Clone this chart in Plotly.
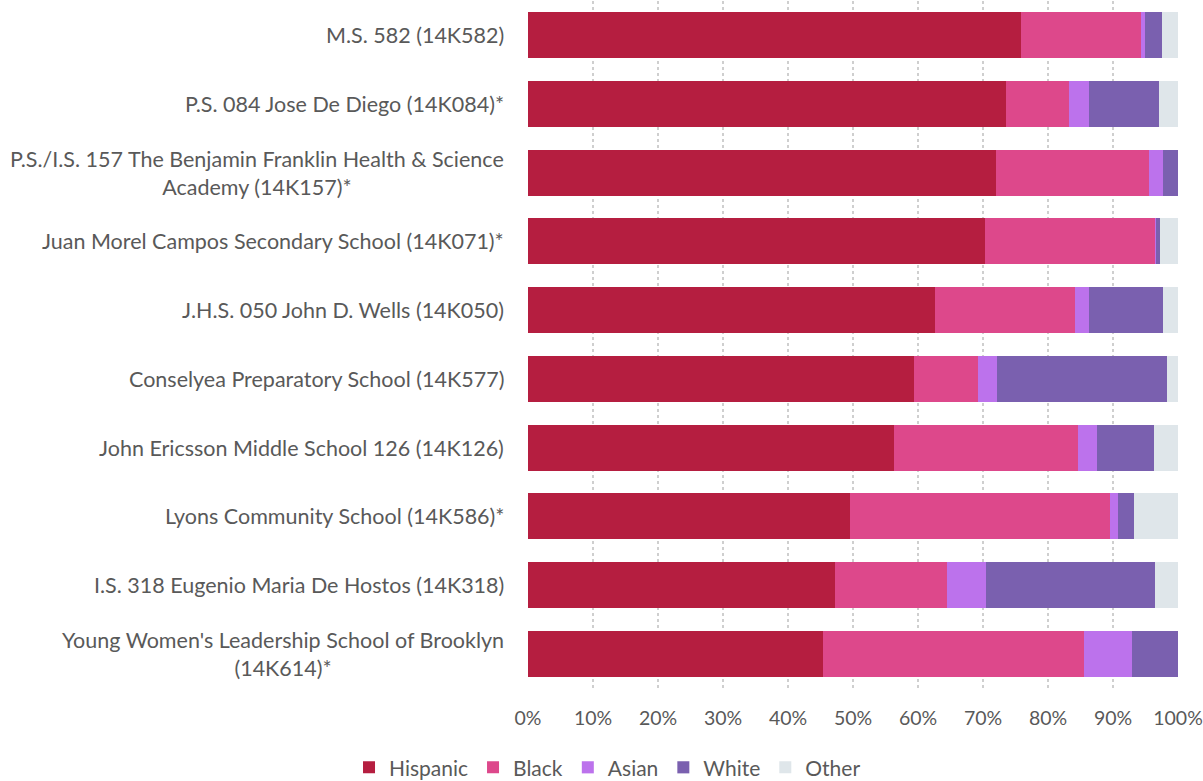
import plotly.graph_objects as go

schools = [
    "M.S. 582 (14K582)",
    "P.S. 084 Jose De Diego (14K084)*",
    "P.S./I.S. 157 The Benjamin Franklin Health & Science<br>Academy (14K157)*",
    "Juan Morel Campos Secondary School (14K071)*",
    "J.H.S. 050 John D. Wells (14K050)",
    "Conselyea Preparatory School (14K577)",
    "John Ericsson Middle School 126 (14K126)",
    "Lyons Community School (14K586)*",
    "I.S. 318 Eugenio Maria De Hostos (14K318)",
    "Young Women's Leadership School of Brooklyn<br>(14K614)*",
]
hispanic = [75.8, 73.6, 72.0, 70.3, 62.6, 59.4, 56.3, 49.5, 47.3, 45.4]
black    = [18.5,  9.7, 23.5, 26.2, 21.5,  9.9, 28.3, 40.1, 17.1, 40.2]
asian    = [ 0.6,  3.0,  2.2,  0.1,  2.2,  2.9,  3.0,  1.1,  6.1,  7.3]
white    = [ 2.6, 10.8,  2.3,  0.7, 11.4, 26.1,  8.7,  2.6, 26.0,  7.1]
other    = [ 2.5,  2.9,  0.0,  2.7,  2.3,  1.7,  3.7,  6.7,  3.5,  0.0]

series = [
    ("Hispanic", hispanic, "#B51E40"),
    ("Black", black, "#DD488B"),
    ("Asian", asian, "#BC72EC"),
    ("White", white, "#7A60AF"),
    ("Other", other, "#DFE6EA"),
]

tick_vals = [0, 10, 20, 30, 40, 50, 60, 70, 80, 90, 100]
tick_text = [f"{v}%" for v in tick_vals]

FONT = "Lato, 'Open Sans', sans-serif"
GREY = "#595959"

fig = go.Figure()
for name, vals, color in series:
    fig.add_trace(go.Bar(
        y=schools, x=vals, name=name, orientation="h",
        marker=dict(color=color, line=dict(width=0)),
        width=0.67,
    ))

for s in schools:
    fig.add_annotation(
        x=0, xref="paper", y=s, yref="y", text=s, showarrow=False,
        xanchor="right", align="center", xshift=-22,
        font=dict(family=FONT, size=21.5, color=GREY),
    )

fig.update_layout(
    barmode="stack",
    width=1203, height=781,
    margin=dict(l=528, r=25, t=1, b=93, autoexpand=False),
    paper_bgcolor="white", plot_bgcolor="white",
    font=dict(family=FONT, size=21, color=GREY),
    showlegend=True,
    legend=dict(
        orientation="h", xref="container", yref="container",
        x=0.505, xanchor="center", y=0.017, yanchor="middle",
        font=dict(family=FONT, size=21, color=GREY),
        traceorder="normal", itemwidth=30,
    ),
    xaxis=dict(
        range=[0, 100], tickvals=tick_vals, ticktext=tick_text,
        showgrid=True, gridcolor="#CFCFCF", gridwidth=1.5, griddash="dot",
        zeroline=False, showline=False, automargin=False,
        ticks="outside", ticklen=13, tickcolor="rgba(0,0,0,0)",
        ticklabeloverflow="allow",
        tickfont=dict(family=FONT, size=19.5, color=GREY),
    ),
    yaxis=dict(
        categoryorder="array", categoryarray=schools,
        range=[9.5, -0.5], showticklabels=False, automargin=False,
        showgrid=False, zeroline=False, showline=False,
    ),
)

fig.write_html("out.html", config={"displayModeBar": False},
               post_script="document.body.style.margin='0px';")
